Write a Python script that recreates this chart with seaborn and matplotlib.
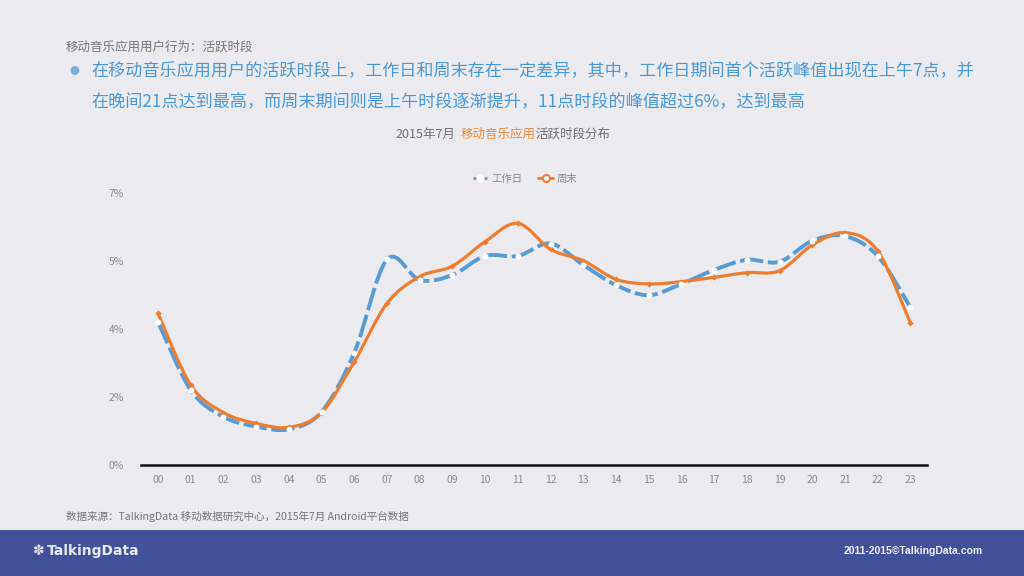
import numpy as np
import pandas as pd
import seaborn as sns
import matplotlib
matplotlib.use("Agg")
import matplotlib.pyplot as plt
from matplotlib.path import Path
from matplotlib.patches import PathPatch, Rectangle
from matplotlib.lines import Line2D
from matplotlib.ticker import FuncFormatter

hours = ["00", "01", "02", "03", "04", "05", "06", "07", "08", "09", "10", "11",
         "12", "13", "14", "15", "16", "17", "18", "19", "20", "21", "22", "23"]
workday = [3.68, 1.93, 1.24, 0.99, 0.92, 1.37, 2.89, 5.29, 4.76, 4.89, 5.38, 5.38,
           5.70, 5.15, 4.63, 4.37, 4.66, 5.02, 5.28, 5.23, 5.77, 5.89, 5.38, 4.06]
weekend = [3.90, 2.06, 1.35, 1.07, 0.97, 1.35, 2.66, 4.16, 4.85, 5.12, 5.75, 6.22,
           5.55, 5.26, 4.78, 4.66, 4.72, 4.83, 4.95, 5.00, 5.66, 5.98, 5.51, 3.66]
series_names = ["工作日", "周末"]
yticks = [0, 1.75, 3.5, 5.25, 7.0]

BG = "#ebebef"
BLUE = "#5b9bd5"
ORANGE = "#ed7d31"
GRAY = "#8a8a8a"

sns.set_theme(style="white")
plt.rcParams["font.family"] = ["Noto Sans CJK SC", "DejaVu Sans"]

fig = plt.figure(figsize=(10.24, 5.76), dpi=100, facecolor=BG)
ax = fig.add_axes([0.1374, 0.1927, 0.7676, 0.4722])
ax.set_facecolor(BG)

x = np.arange(len(hours))
df = pd.DataFrame({"hour": np.concatenate([x, x]),
                   "value": workday + weekend,
                   "series": [series_names[0]] * len(x) + [series_names[1]] * len(x)})


def smooth_path(xs, ys, k=1/6):
    pts = np.column_stack([xs, ys]).astype(float)
    verts = [pts[0]]
    codes = [Path.MOVETO]
    n = len(pts)
    for i in range(n - 1):
        p0 = pts[i - 1] if i > 0 else pts[i]
        p1 = pts[i]
        p2 = pts[i + 1]
        p3 = pts[i + 2] if i + 2 < n else pts[i + 1]
        c1 = p1 + (p2 - p0) * k
        c2 = p2 - (p3 - p1) * k
        verts += [c1, c2, p2]
        codes += [Path.CURVE4] * 3
    return Path(verts, codes)


blue_patch = PathPatch(smooth_path(x, workday), fill=False, edgecolor=BLUE,
                       linewidth=2.8, linestyle=(0, (6, 1.2)), capstyle="butt", zorder=3)
ax.add_patch(blue_patch)
orange_patch = PathPatch(smooth_path(x, weekend), fill=False, edgecolor=ORANGE,
                         linewidth=2.3, zorder=4)
ax.add_patch(orange_patch)

sns.scatterplot(data=df[df.series == series_names[1]], x="hour", y="value", ax=ax,
                color=ORANGE, marker="D", s=10, linewidth=0, zorder=5, legend=False)
sns.scatterplot(data=df[df.series == series_names[0]], x="hour", y="value", ax=ax,
                color="white", marker="o", s=18, linewidth=0, zorder=6, legend=False)

ax.set_xlim(-0.53, 23.5)
ax.set_ylim(0, 7.0)
ax.set_xticks(x)
ax.set_xticklabels(hours)
ax.set_yticks(yticks)
ax.yaxis.set_major_formatter(FuncFormatter(lambda v, p: f"{round(v):d}%"))
ax.tick_params(axis="both", colors=GRAY, labelsize=7.5, length=0)
ax.tick_params(axis="y", pad=12)
ax.tick_params(axis="x", pad=7)
ax.set_xlabel("")
ax.set_ylabel("")
for s in ["top", "right", "left"]:
    ax.spines[s].set_visible(False)
ax.spines["bottom"].set_color("#111111")
ax.spines["bottom"].set_linewidth(1.8)
ax.grid(False)

handles = [Line2D([0], [0], color=BLUE, lw=2, ls=(0, (2, 1)), marker="o",
                  markersize=5, markerfacecolor="white", markeredgecolor="white"),
           Line2D([0], [0], color=ORANGE, lw=2, marker="o", markersize=5,
                  markerfacecolor="white", markeredgecolor=ORANGE, markeredgewidth=1.5)]
leg = fig.legend(handles, series_names, loc="center", bbox_to_anchor=(0.513, 0.69),
                 ncol=2, frameon=False, fontsize=7.5, handlelength=1.4,
                 columnspacing=1.5, handletextpad=0.4)
for t in leg.get_texts():
    t.set_color(GRAY)

# Header texts
fig.text(66 / 1024, 1 - 47 / 576, "移动音乐应用用户行为：活跃时段", fontsize=9,
         color="#777777", va="center", ha="left")
fig.text(70 / 1024, 1 - 71 / 576, "●", fontsize=7, color="#7aaedc", va="center", ha="left")
fig.text(91 / 1024, 1 - 71 / 576,
         "在移动音乐应用用户的活跃时段上，工作日和周末存在一定差异，其中，工作日期间首个活跃峰值出现在上午7点，并",
         fontsize=12.3, color="#4a98d8", va="center", ha="left")
fig.text(91 / 1024, 1 - 102 / 576,
         "在晚间21点达到最高，而周末期间则是上午时段逐渐提升，11点时段的峰值超过6%，达到最高",
         fontsize=12.3, color="#4a98d8", va="center", ha="left")

# Chart title in three coloured parts
parts = [("2015年7月", "#707070", 395), ("移动音乐应用", "#f0883a", 461),
         ("活跃时段分布", "#707070", 535)]
for txt, col, xp in parts:
    fig.text(xp / 1024, 1 - 134 / 576, txt, fontsize=9, color=col,
             va="center", ha="left")

# Source
fig.text(66 / 1024, 1 - 516 / 576,
         "数据来源：TalkingData 移动数据研究中心，2015年7月 Android平台数据",
         fontsize=7.6, color="#777777", va="center", ha="left")

# Footer band
fig.patches.append(Rectangle((0, 0), 1, 46 / 576, transform=fig.transFigure,
                             facecolor="#43509a", edgecolor="none", zorder=0))
fig.text(33 / 1024, 1 - 551 / 576, "✽", fontsize=10, color="#d8dce8",
         va="center", ha="left", family=["DejaVu Sans"])
fig.text(47 / 1024, 1 - 551 / 576, "TalkingData", fontsize=10, color="#e6e8f0",
         va="center", ha="left", fontweight="bold", family=["DejaVu Sans Condensed", "DejaVu Sans"])
fig.text(983 / 1024, 1 - 551 / 576, "2011-2015©TalkingData.com", fontsize=7.5,
         color="#f0f0f5", va="center", ha="right", fontweight="bold",
         family=["Liberation Sans", "DejaVu Sans"])

fig.savefig("out.png", dpi=100, facecolor=BG)
